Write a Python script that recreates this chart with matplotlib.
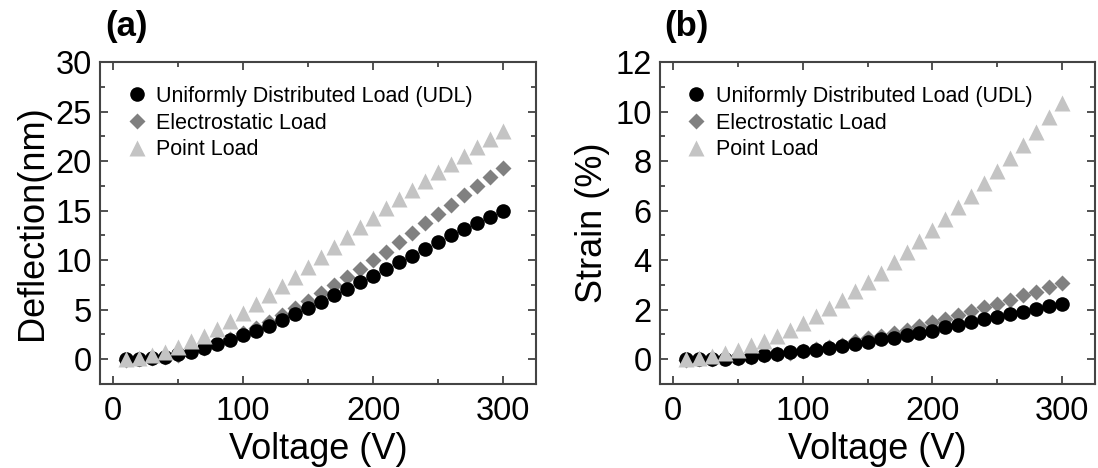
import numpy as np
import matplotlib
matplotlib.use("Agg")
import matplotlib.pyplot as plt
from matplotlib.ticker import MultipleLocator

plt.rcParams["font.family"] = ["Liberation Sans", "DejaVu Sans"]

# Applied voltage (V)
voltage = np.arange(10, 301, 10)

# Panel (a): deflection (nm)
defl_udl = [0.0, 0.0, 0.1, 0.2, 0.5, 0.75, 1.1, 1.5, 1.9, 2.4,
            2.85, 3.4, 3.95, 4.55, 5.15, 5.75, 6.45, 7.1, 7.75, 8.45,
            9.1, 9.85, 10.45, 11.15, 11.8, 12.5, 13.1, 13.75, 14.4, 15.0]
defl_elec = [-0.05, 0.0, 0.1, 0.2, 0.45, 0.8, 1.15, 1.6, 2.05, 2.6,
             3.15, 3.75, 4.45, 5.15, 5.9, 6.65, 7.45, 8.25, 9.1, 10.0,
             10.85, 11.85, 12.75, 13.7, 14.65, 15.6, 16.55, 17.5, 18.4, 19.35]
defl_point = [0.0, 0.1, 0.4, 0.75, 1.2, 1.8, 2.35, 3.1, 3.85, 4.7,
              5.55, 6.45, 7.4, 8.35, 9.3, 10.35, 11.35, 12.35, 13.3, 14.3,
              15.25, 16.2, 17.1, 18.0, 18.85, 19.7, 20.55, 21.4, 22.2, 23.0]

# Panel (b): strain (%)
strain_udl = [0.0, 0.0, 0.0, 0.0, 0.04, 0.1, 0.16, 0.21, 0.28, 0.32,
              0.39, 0.46, 0.55, 0.63, 0.7, 0.8, 0.87, 0.97, 1.07, 1.15,
              1.29, 1.39, 1.49, 1.61, 1.72, 1.82, 1.9, 2.02, 2.13, 2.21]
strain_elec = [-0.03, 0.0, 0.01, 0.03, 0.06, 0.1, 0.16, 0.21, 0.27, 0.34,
               0.41, 0.49, 0.58, 0.74, 0.84, 0.95, 1.07, 1.2, 1.34, 1.5,
               1.64, 1.8, 1.94, 2.1, 2.22, 2.4, 2.59, 2.72, 2.9, 3.06]
strain_point = [0.0, 0.04, 0.13, 0.24, 0.38, 0.56, 0.74, 0.95, 1.18, 1.45,
                1.73, 2.05, 2.39, 2.75, 3.12, 3.5, 3.91, 4.32, 4.77, 5.23,
                5.67, 6.15, 6.61, 7.1, 7.61, 8.12, 8.65, 9.18, 9.79, 10.36]

labels = ["Uniformly Distributed Load (UDL)", "Electrostatic Load", "Point Load"]

fig = plt.figure(figsize=(10.98, 4.68), dpi=100)
ax_a = fig.add_axes([0.0911, 0.1795, 0.397, 0.688])
ax_b = fig.add_axes([0.601, 0.1795, 0.396, 0.688])

panels = [
    (ax_a, defl_udl, defl_elec, defl_point, "Deflection(nm)", (-2.5, 30), 5, "(a)"),
    (ax_b, strain_udl, strain_elec, strain_point, "Strain (%)", (-1, 12), 2, "(b)"),
]

for ax, udl, elec, point, ylab, ylim, ystep, tag in panels:
    ax.plot(voltage, udl, "o", color="black", ms=10.5, mec="none", label=labels[0], zorder=3)
    ax.plot(voltage, elec, "D", color="#808080", ms=7.8, mec="none", label=labels[1], zorder=2)
    ax.plot(voltage, point, "^", color="#c4c4c4", ms=12, mec="none", label=labels[2], zorder=4)

    ax.set_xlim(-10, 325)
    ax.set_ylim(*ylim)
    ax.xaxis.set_major_locator(MultipleLocator(100))
    ax.xaxis.set_minor_locator(MultipleLocator(50))
    ax.yaxis.set_major_locator(MultipleLocator(ystep))
    ax.yaxis.set_minor_locator(MultipleLocator(ystep / 2))
    ax.tick_params(which="both", direction="in", top=True, right=True,
                   labelsize=23.5, color="#333333", width=1.2)
    ax.tick_params(which="major", length=6)
    ax.tick_params(axis="x", which="major", pad=9)
    ax.tick_params(axis="y", which="major", pad=6)
    ax.tick_params(which="minor", length=3.5)
    for sp in ax.spines.values():
        sp.set_linewidth(1.5)
        sp.set_color("#444444")

    ax.set_xlabel("Voltage (V)", fontsize=26, labelpad=3)
    ax.set_ylabel(ylab, fontsize=26, labelpad=4)
    ax.text(0.06, 1.11, tag, transform=ax.transAxes, fontsize=25,
            fontweight="bold", ha="center", va="center")

    ax.legend(loc="upper left", frameon=False, fontsize=15.5,
              handletextpad=0.3, labelspacing=0.27, borderaxespad=0.6,
              handlelength=1.2, borderpad=0.5)

fig.savefig("out.png", dpi=100)
